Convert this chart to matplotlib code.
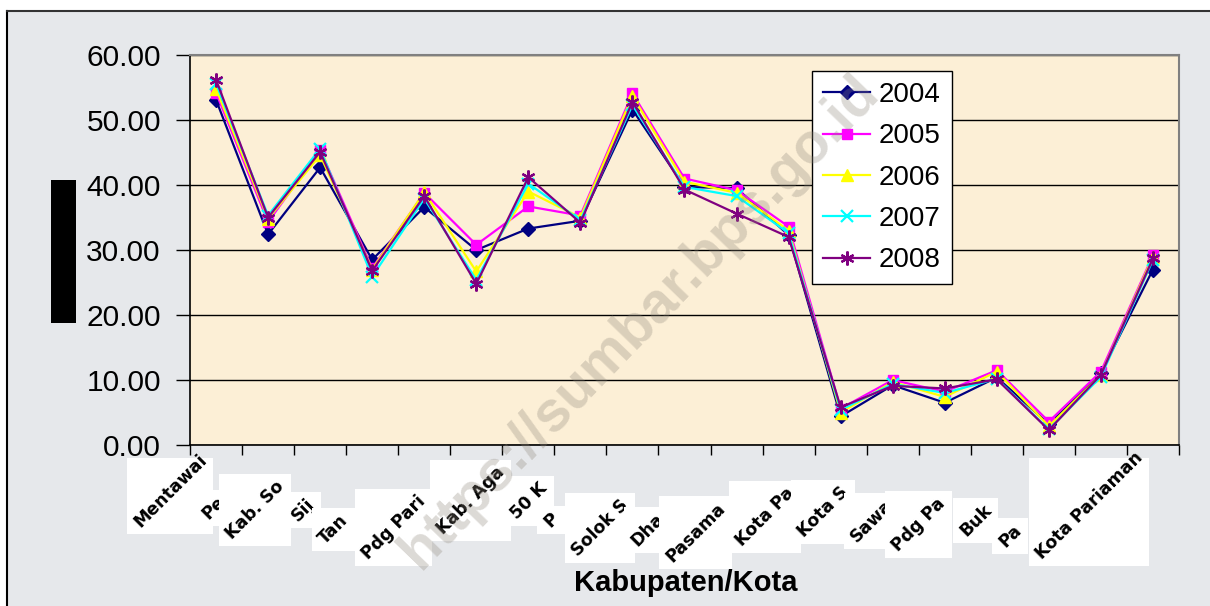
import numpy as np
import matplotlib
matplotlib.use('Agg')
import matplotlib.pyplot as plt
from matplotlib.patches import Rectangle
from matplotlib.lines import Line2D
from matplotlib.transforms import IdentityTransform

plt.rcParams['font.family'] = ['Liberation Sans', 'DejaVu Sans']

# ---------------- data ----------------
categories = ["Mentawai", "Pe", "Kab. So", "Sij", "Tan", "Pdg Pari", "Kab. Aga",
              "50 K", "P", "Solok S", "Dha", "Pasama", "Kota Pa", "Kota S",
              "Sawa", "Pdg Pa", "Buk", "Pa", "Kota Pariaman"]
years = ["2004", "2005", "2006", "2007", "2008"]
v2004 = [53.1, 32.4, 42.7, 28.5, 36.6, 30.0, 33.3, 34.5, 51.6, 39.7, 39.5, 32.3, 4.4, 9.2, 6.5, 10.4, 3.2, 11.1, 27.0]
v2005 = [54.2, 34.3, 45.4, 27.2, 38.8, 30.8, 36.7, 35.3, 54.1, 41.0, 39.2, 33.6, 5.6, 10.0, 8.2, 11.5, 3.6, 11.3, 29.2]
v2006 = [54.8, 34.8, 44.6, 27.0, 38.9, 26.7, 39.0, 35.0, 53.7, 40.5, 38.8, 33.0, 5.0, 9.7, 7.4, 11.3, 2.9, 10.8, 29.0]
v2007 = [55.6, 35.3, 45.6, 25.9, 37.9, 25.4, 40.2, 34.6, 52.3, 39.7, 38.3, 32.6, 5.4, 9.4, 8.0, 10.2, 2.4, 10.5, 28.5]
v2008 = [56.2, 35.0, 45.1, 26.8, 38.3, 24.8, 41.2, 34.2, 52.8, 39.3, 35.6, 32.0, 5.8, 9.1, 8.7, 10.1, 2.3, 10.8, 28.7]
series = [v2004, v2005, v2006, v2007, v2008]
yticks = [0, 10, 20, 30, 40, 50, 60]
xlabel = "Kabupaten/Kota"
watermark = "https://sumbar.bps.go.id"

# ---------------- style ----------------
colors = ['#000080', '#FF00FF', '#FFFF00', '#00FFFF', '#800080']
markers = ['D', 's', '^', 'x', (6, 2, 0)]
msizes = [7, 7, 8, 8, 10]

W, H = 1210, 606
fig = plt.figure(figsize=(W / 100, H / 100), dpi=100, facecolor='white')

# marble-like background and outer frame
fig.add_artist(Rectangle((7 / W, 0), 1 - 7 / W, 1 - 11 / H, transform=fig.transFigure,
                         facecolor='#e6e8eb', edgecolor='none', zorder=-10))
fig.add_artist(Line2D([7 / W, 7 / W], [0, 1 - 11 / H], transform=fig.transFigure,
                      color='black', lw=1.5, zorder=-9))
fig.add_artist(Line2D([7 / W, 1], [1 - 11 / H, 1 - 11 / H], transform=fig.transFigure,
                      color='#333333', lw=1.5, zorder=-9))

ax = fig.add_axes([190 / W, 1 - 445 / H, (1179 - 190) / W, (445 - 55) / H])
ax.set_facecolor('#fcefd6')

x = np.arange(len(categories))
handles = []
for i, (vals, yr) in enumerate(zip(series, years)):
    ln, = ax.plot(x, vals, color=colors[i], lw=1.6, marker=markers[i], ms=msizes[i],
                  mew=1.6 if i >= 3 else 1, mec=colors[i], mfc=colors[i], label=yr,
                  zorder=3 + i)
    handles.append(ln)

ax.set_xlim(-0.5, len(categories) - 0.5)
ax.set_ylim(0, 60)
ax.set_yticks(yticks)
ax.set_yticklabels([f"{v:.2f}" for v in yticks])
ax.tick_params(axis='y', direction='out', length=10, width=1, pad=11, labelsize=21.5)
ax.set_xticks(np.arange(-0.5, len(categories), 1))
ax.tick_params(axis='x', direction='out', length=7, width=1, labelbottom=False)
ax.yaxis.grid(True, color='black', lw=1)
ax.set_axisbelow(True)
for s in ['top', 'right']:
    ax.spines[s].set_color('#808080')
    ax.spines[s].set_linewidth(1.5)
for s in ['left', 'bottom']:
    ax.spines[s].set_color('black')
    ax.spines[s].set_linewidth(1.2)

leg = ax.legend(handles=handles, loc='upper left', bbox_to_anchor=(812 / W, 1 - 71 / H),
                bbox_transform=fig.transFigure, borderaxespad=0, fontsize=20,
                frameon=True, fancybox=False, edgecolor='black', facecolor='white',
                framealpha=1, handlelength=1.7, handletextpad=0.3, labelspacing=0.55,
                borderpad=0.4)
leg.get_frame().set_linewidth(1)

# black block (redacted y label)
fig.add_artist(Rectangle((51, H - 323), 25, 143, transform=IdentityTransform(),
                         facecolor='black', edgecolor='none', zorder=5))

# category labels (rotated, each on its own white box)
label_starts = [(140, 528), (208, 520), (232, 540), (298, 522), (325, 545), (368, 560),
                (443, 535), (517, 520), (550, 528), (578, 557), (637, 547), (672, 563),
                (742, 547), (804, 538), (857, 543), (898, 552), (966, 537), (1005, 548),
                (1042, 560)]
texts = []
for i, (lab, (px, py)) in enumerate(zip(categories, label_starts)):
    t = fig.text(px / W, 1 - py / H, lab, rotation=45, rotation_mode='anchor',
                 ha='left', va='baseline', fontsize=12.5, fontweight='bold',
                 family=['DejaVu Sans'], color='black', zorder=11 + 2 * i)
    texts.append(t)

fig.text(686 / W, 1 - 583 / H, xlabel, ha='center', va='center', fontsize=21,
         fontweight='bold', color='black', zorder=60)

fig.canvas.draw()
r = fig.canvas.get_renderer()
for i, t in enumerate(texts):
    bb = t.get_window_extent(r)
    pad = 3
    top = min(bb.y1 + pad, H - 458)
    fig.add_artist(Rectangle((bb.x0 - pad, bb.y0 - pad), bb.width + 2 * pad, top - (bb.y0 - pad),
                             transform=IdentityTransform(), facecolor='white',
                             edgecolor='none', zorder=10 + 2 * i))

# watermark
fig.text(640 / W, 1 - 322 / H, watermark, rotation=46, ha='center', va='center',
         fontsize=41, fontweight='bold', color='#8c8478', alpha=0.3, zorder=70)

fig.savefig('out.png', dpi=100, facecolor=fig.get_facecolor())
